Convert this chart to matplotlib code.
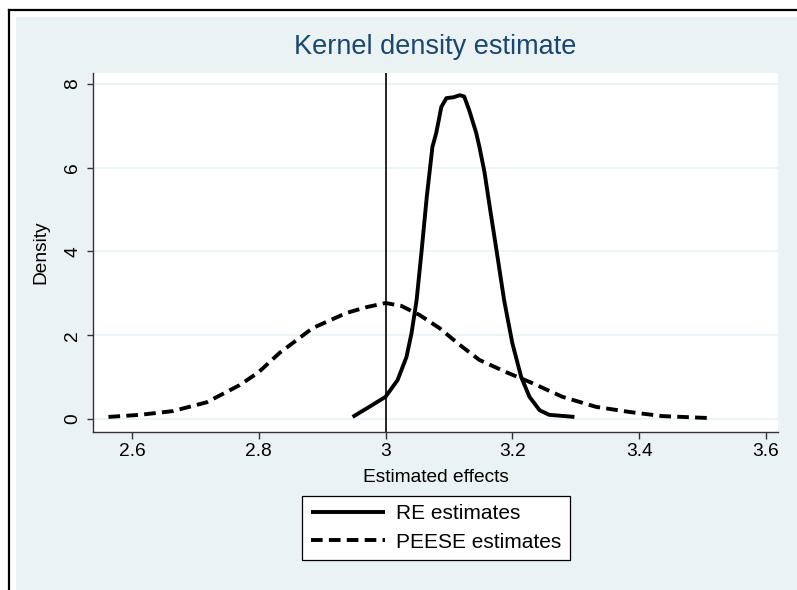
import numpy as np
import matplotlib
matplotlib.use("Agg")
import matplotlib.pyplot as plt
from matplotlib.patches import Rectangle

# ---------------------------------------------
# Data
# ---------------------------------------------
re_x = [2.948, 2.97, 3.0, 3.019, 3.033, 3.041, 3.049, 3.057, 3.065, 3.074,
        3.080, 3.088, 3.096, 3.107, 3.117, 3.124, 3.132, 3.143, 3.148, 3.156,
        3.165, 3.175, 3.187, 3.2, 3.214, 3.227, 3.243, 3.258, 3.298]
re_y = [0.05, 0.25, 0.53, 0.93, 1.48, 2.05, 2.84, 4.03, 5.3, 6.5,
        6.83, 7.45, 7.66, 7.68, 7.73, 7.7, 7.37, 6.83, 6.5, 5.9,
        5.0, 4.03, 2.84, 1.81, 1.0, 0.53, 0.21, 0.1, 0.05]

peese_x = [2.563, 2.613, 2.665, 2.718, 2.77, 2.80, 2.833, 2.885, 2.938, 2.97,
           3.0, 3.025, 3.054, 3.085, 3.117, 3.148, 3.19, 3.231, 3.279, 3.332,
           3.384, 3.436, 3.515]
peese_y = [0.05, 0.1, 0.19, 0.4, 0.81, 1.12, 1.58, 2.17, 2.53, 2.67,
           2.77, 2.7, 2.48, 2.17, 1.77, 1.41, 1.12, 0.86, 0.53, 0.29,
           0.17, 0.07, 0.02]

x_ticks = [2.6, 2.8, 3.0, 3.2, 3.4, 3.6]
x_tick_labels = ['2.6', '2.8', '3', '3.2', '3.4', '3.6']
y_ticks = [0, 2, 4, 6, 8]
ref_line = 3.0

# ---------------------------------------------
# Style (Stata s2color look)
# ---------------------------------------------
BG_COLOR    = '#eaf2f3'
TITLE_COLOR = '#1a476f'
plt.rcParams['font.family'] = ['Liberation Sans', 'DejaVu Sans']

W, H = 797, 590
fig = plt.figure(figsize=(W / 100, H / 100), dpi=100, facecolor='white')

# outer frame + light background
fig.patches.append(Rectangle((16 / W, 0), 1, 1 - 17 / H, transform=fig.transFigure,
                             facecolor=BG_COLOR, edgecolor='none', zorder=-10))
fig.lines.append(plt.Line2D([8.5 / W, 8.5 / W], [0, 1 - 9.5 / H], transform=fig.transFigure,
                            color='black', linewidth=1.6, zorder=-5))
fig.lines.append(plt.Line2D([8.5 / W, 1], [1 - 9.5 / H, 1 - 9.5 / H], transform=fig.transFigure,
                            color='black', linewidth=1.6, zorder=-5))

ax = fig.add_axes([93 / W, 1 - 432 / H, 685 / W, 359 / H])
ax.set_facecolor('white')

ax.plot(re_x, re_y, color='black', linewidth=2.8, solid_capstyle='butt',
        label='RE estimates')
ax.plot(peese_x, peese_y, color='black', linewidth=2.8, linestyle=(0, (3.0, 1.6)),
        dash_capstyle='butt', label='PEESE estimates')
ax.axvline(ref_line, color='black', linewidth=1.2)

ax.set_xlim(2.5386, 3.619)
ax.set_ylim(-0.31, 8.26)
ax.set_xticks(x_ticks)
ax.set_xticklabels(x_tick_labels)
ax.set_yticks(y_ticks)
ax.grid(axis='y', color=BG_COLOR, linewidth=1.2)
ax.set_axisbelow(True)

for side in ['top', 'right']:
    ax.spines[side].set_visible(False)
for side in ['left', 'bottom']:
    ax.spines[side].set_color('#333333')
    ax.spines[side].set_linewidth(1.0)

ax.tick_params(axis='x', direction='out', length=5, width=1, color='#333333',
               labelsize=13.8, pad=3)
ax.tick_params(axis='y', direction='out', length=4.5, width=1, color='#333333',
               labelsize=13.8, pad=4, labelrotation=90)
for lab in ax.get_yticklabels():
    lab.set_verticalalignment('center')

ax.set_xlabel('Estimated effects', fontsize=13.8)
ax.xaxis.set_label_coords(0.5, -0.103)
ax.set_ylabel('Density', fontsize=13.8)
ax.yaxis.set_label_coords(-0.064, 0.5)

fig.text(435.5 / W, 1 - 47 / H, 'Kernel density estimate', color=TITLE_COLOR,
         fontsize=19.5, ha='center', va='center')

leg = ax.legend(loc='upper center', bbox_to_anchor=(436 / W, 1 - 496 / H),
                bbox_transform=fig.transFigure, borderaxespad=0, fontsize=15,
                frameon=True, fancybox=False, framealpha=1, edgecolor='black',
                handlelength=3.55, handletextpad=0.55, borderpad=0.4,
                labelspacing=0.44)
leg.get_frame().set_linewidth(0.9)

plt.savefig('out.png', dpi=100, facecolor='white')
